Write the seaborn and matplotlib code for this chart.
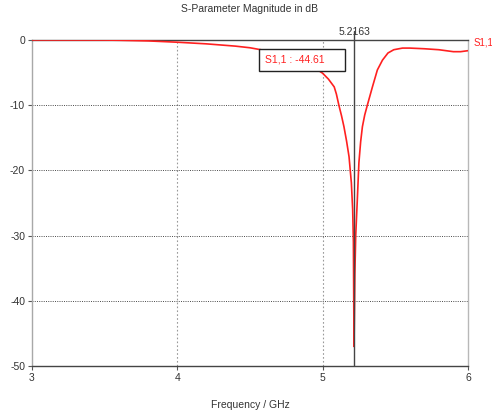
import matplotlib
matplotlib.use("Agg")
import matplotlib.pyplot as plt
import seaborn as sns
import pandas as pd

freq = [3.0, 3.5, 3.6, 3.8, 4.0, 4.2, 4.4, 4.5, 4.6, 4.7, 4.8, 4.9, 4.96, 5.0,
        5.04, 5.08, 5.095, 5.112, 5.13, 5.147, 5.165, 5.182, 5.198, 5.207,
        5.212, 5.2163, 5.222, 5.228, 5.239, 5.25, 5.262, 5.274, 5.29, 5.308,
        5.343, 5.377, 5.412, 5.45, 5.49, 5.55, 5.6, 5.7, 5.8, 5.9, 5.95, 6.0]
s11 = [0.0, -0.02, -0.05, -0.15, -0.35, -0.6, -0.95, -1.2, -1.6, -2.1, -2.8,
       -3.7, -4.5, -5.1, -6.0, -7.2, -8.3, -10.0, -11.6, -13.3, -15.5, -17.9,
       -21.9, -26.0, -31.0, -47.0, -36.0, -30.0, -24.5, -18.8, -15.6, -13.3,
       -11.5, -10.0, -7.2, -4.6, -3.1, -2.0, -1.5, -1.25, -1.25, -1.35, -1.5,
       -1.8, -1.8, -1.65]
marker_freq = 5.2163
marker_value = -44.61
xticks = [3, 4, 5, 6]
yticks = [0, -10, -20, -30, -40, -50]
title = "S-Parameter Magnitude in dB"
xlabel = "Frequency / GHz"
series_name = "S1,1"

sns.set_theme(style="white")
plt.rcParams['font.family'] = ['Liberation Sans', 'DejaVu Sans']

df = pd.DataFrame({"freq": freq, "s11": s11})

fig = plt.figure(figsize=(4.92, 4.16), dpi=100)
ax = fig.add_axes([0.065, 0.120, 0.886, 0.784])

sns.lineplot(data=df, x="freq", y="s11", ax=ax, color="#ff2020", lw=1.2, zorder=3)

ax.set_xlim(3, 6)
ax.set_ylim(-50, 0)
ax.set_xticks(xticks)
ax.set_yticks(yticks)
ax.set_xticklabels([str(t) for t in xticks], fontsize=7.5, color="#333333")
ax.set_yticklabels([str(t) for t in yticks], fontsize=7.5, color="#333333")
ax.tick_params(axis="both", length=3, width=0.8, color="#555555", pad=2,
               bottom=True, left=True)

for x in xticks[1:-1]:
    ax.axvline(x, color="#999999", ls=(0, (1.5, 2)), lw=0.8, zorder=1)
for y in yticks[1:-1]:
    ax.axhline(y, color="#333333", ls=(0, (1.2, 1.5)), lw=0.6, zorder=1)

ax.spines["left"].set_color("#a8a8a8")
ax.spines["right"].set_color("#b8b8b8")
ax.spines["top"].set_color("#444444")
ax.spines["bottom"].set_color("#444444")
for s in ax.spines.values():
    s.set_linewidth(1.0)

ax.set_xlabel("")
ax.set_ylabel("")
fig.text(0.508, 0.978, title, ha="center", va="center", fontsize=7.5, color="#333333")
fig.text(0.508, 0.026, xlabel, ha="center", va="center", fontsize=7.5, color="#333333")

# marker line
ax.axvline(marker_freq, color="#444444", lw=1.0, zorder=4)
ax.plot([marker_freq, marker_freq], [0, 1.4], color="#444444", lw=1.0,
        clip_on=False, zorder=4)
ax.annotate(f"{marker_freq:.4f}", xy=(marker_freq, 0), xytext=(0, 2),
            textcoords="offset points", ha="center", va="bottom", fontsize=7.5,
            color="#333333", annotation_clip=False)
ax.annotate(f"{series_name} : {marker_value:.2f}     ", xy=(marker_freq, 0),
            xytext=(-64, -14.3), textcoords="offset points", ha="left",
            va="center", fontsize=7.5, color="#ff2020",
            bbox=dict(boxstyle="square,pad=0.6", fc="white", ec="#222222",
                      lw=1.0), zorder=6)
ax.annotate(series_name, xy=(freq[-1], s11[-1]), xytext=(4, 6),
            textcoords="offset points", ha="left", va="center", fontsize=7,
            color="#ff2020", annotation_clip=False)

fig.savefig("out.png", dpi=100)
